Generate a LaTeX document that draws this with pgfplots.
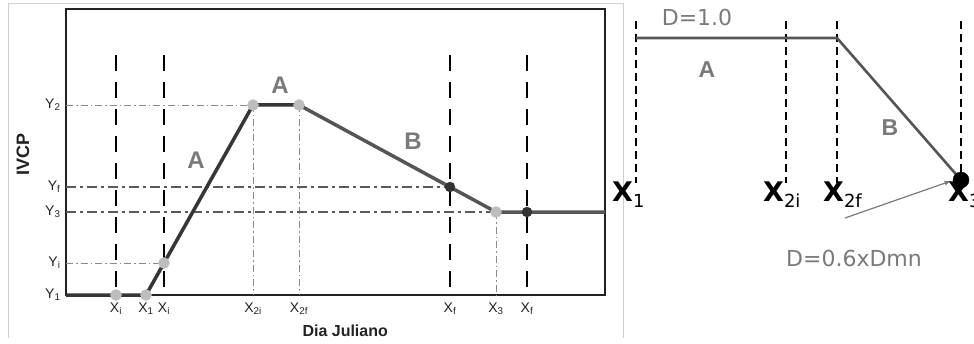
\documentclass[border=0pt]{standalone}
\usepackage{fontspec}
\setmainfont{Liberation Sans}
\newfontfamily\dejavu{DejaVu Sans}
\usepackage{pgfplots}
\pgfplotsset{compat=1.18}
\definecolor{lineA}{HTML}{363636}
\definecolor{lineB}{HTML}{555555}
\definecolor{dotlight}{HTML}{BDBDBD}
\definecolor{dotdark}{HTML}{333333}
\definecolor{lettergray}{HTML}{7A7A7A}
\definecolor{guidethin}{HTML}{8A8A8A}
\definecolor{guidethick}{HTML}{5A5A5A}
\definecolor{framegray}{HTML}{CFCFCF}
\definecolor{tickcol}{HTML}{222222}

\pgfplotsset{
  thindashdot/.style={guidethin, line width=0.9pt, dash pattern=on 7pt off 3pt on 1.5pt off 3pt},
  thickdashdot/.style={guidethick, line width=1.8pt, dash pattern=on 10pt off 4pt on 3pt off 4pt},
  bigdash/.style={black, line width=2.2pt, dash pattern=on 16pt off 11pt},
  smalldash/.style={black, line width=1.6pt, dash pattern=on 8pt off 5pt},
}
\tikzset{
  letter/.style={font=\fontsize{24}{24}\selectfont\bfseries, text=lettergray},
  bigx/.style={font=\dejavu\fontsize{27}{27}\selectfont\bfseries, anchor=base west, inner sep=0pt},
}
\newcommand{\sub}[1]{\raisebox{-6pt}{\fontsize{18}{18}\selectfont\mdseries #1}}

\begin{document}
\begin{tikzpicture}
\useasboundingbox (0,0) rectangle (974pt,343pt);
\draw[framegray, line width=0.8pt] (8pt,5pt) -- (8pt,340pt) -- (623pt,340pt) -- (623pt,5pt);

% left panel: IVCP over the Julian day
\begin{axis}[
    at={(66pt,48pt)}, anchor=south west,
    scale only axis, width=539pt, height=286pt,
    xmin=0, xmax=539, ymin=0, ymax=286,
    clip=false,
    axis line style={tickcol, line width=1.4pt},
    major tick length=0pt,
    xtick={50,80,98,187,233,384,430,461},
    xticklabels={X\textsubscript{i}, X\textsubscript{1}, X\textsubscript{i}, X\textsubscript{2i},
                 X\textsubscript{2f}, X\textsubscript{f}, X\textsubscript{3}, X\textsubscript{f}},
    ytick={0,32,83,108,190},
    yticklabels={Y\textsubscript{1}, Y\textsubscript{i}, Y\textsubscript{3}, Y\textsubscript{f}, Y\textsubscript{2}},
    xticklabel style={font=\fontsize{14}{16}\selectfont, text=tickcol, yshift=-4pt},
    yticklabel style={font=\fontsize{14}{16}\selectfont, text=tickcol, xshift=-2pt},
    xlabel={Dia Juliano}, ylabel={IVCP},
    xlabel style={at={(axis description cs:0.518,-0.126)}, anchor=center,
                  font=\fontsize{16}{16}\selectfont\bfseries, text=tickcol},
    ylabel style={at={(axis description cs:-0.08,0.49)}, anchor=center,
                  font=\fontsize{18}{18}\selectfont\bfseries, text=tickcol},
]
% guide lines
\addplot[thindashdot] coordinates {(0,190) (187,190)};
\addplot[thindashdot] coordinates {(0,32) (98,32)};
\addplot[thindashdot] coordinates {(187,190) (187,0)};
\addplot[thindashdot] coordinates {(233,190) (233,0)};
\addplot[thindashdot] coordinates {(430,83) (430,0)};
\addplot[thickdashdot] coordinates {(0,108) (384,108)};
\addplot[thickdashdot] coordinates {(0,83) (430,83)};
\addplot[bigdash] coordinates {(50,240) (50,0)};
\addplot[bigdash] coordinates {(98,240) (98,0)};
\addplot[bigdash] coordinates {(384,240) (384,0)};
\addplot[bigdash] coordinates {(461,240) (461,0)};
% curve
\addplot[lineA, line width=3.5pt, line join=round] coordinates {(0,0) (80,0) (187,190) (233,190)};
\addplot[lineB, line width=3.5pt, line join=round] coordinates {(233,190) (430,83) (539,83)};
% points
\addplot[only marks, mark=*, mark size=5.5pt, mark options={draw=dotlight, fill=dotlight}]
  coordinates {(50,0) (80,0) (98,32) (187,190) (233,190) (430,83)};
\addplot[only marks, mark=*, mark size=5pt, mark options={draw=dotdark, fill=dotdark}]
  coordinates {(384,108) (461,83)};
\node[letter] at (axis cs:130,135) {A};
\node[letter] at (axis cs:214,210) {A};
\node[letter] at (axis cs:347,154) {B};
\end{axis}

% right panel: D factor
\begin{axis}[
    at={(623pt,0pt)}, anchor=south west,
    scale only axis, width=351pt, height=343pt,
    xmin=-13, xmax=338, ymin=0, ymax=343,
    hide axis, clip=false,
]
\addplot[smalldash] coordinates {(0,322) (0,160)};
\addplot[smalldash] coordinates {(150,322) (150,160)};
\addplot[smalldash] coordinates {(201,322) (201,160)};
\addplot[smalldash] coordinates {(325,322) (325,160)};
\addplot[lineB, line width=2.6pt, line join=round] coordinates {(0,305) (201,305) (325,163)};
\addplot[only marks, mark=*, mark size=8pt, mark options={draw=black, fill=black}]
  coordinates {(325,163)};
\draw[-latex, lettergray, line width=1.2pt] (axis cs:209,125) -- (axis cs:315,162);
\node[font=\dejavu\fontsize{22}{22}\selectfont, text=lettergray] at (axis cs:61,326) {D=1.0};
\node[font=\dejavu\fontsize{22}{22}\selectfont, text=lettergray] at (axis cs:218,85) {D=0.6xDmn};
\node[letter, font=\fontsize{23}{23}\selectfont\bfseries] at (axis cs:71,273) {A};
\node[letter, font=\fontsize{23}{23}\selectfont\bfseries] at (axis cs:254,215) {B};
\node[bigx] at (axis cs:-24,141) {X\sub{1}};
\node[bigx] at (axis cs:127,141) {X\sub{2i}};
\node[bigx] at (axis cs:187,141) {X\sub{2f}};
\node[bigx] at (axis cs:312,141) {X\sub{3}};
\end{axis}
\end{tikzpicture}
\end{document}
